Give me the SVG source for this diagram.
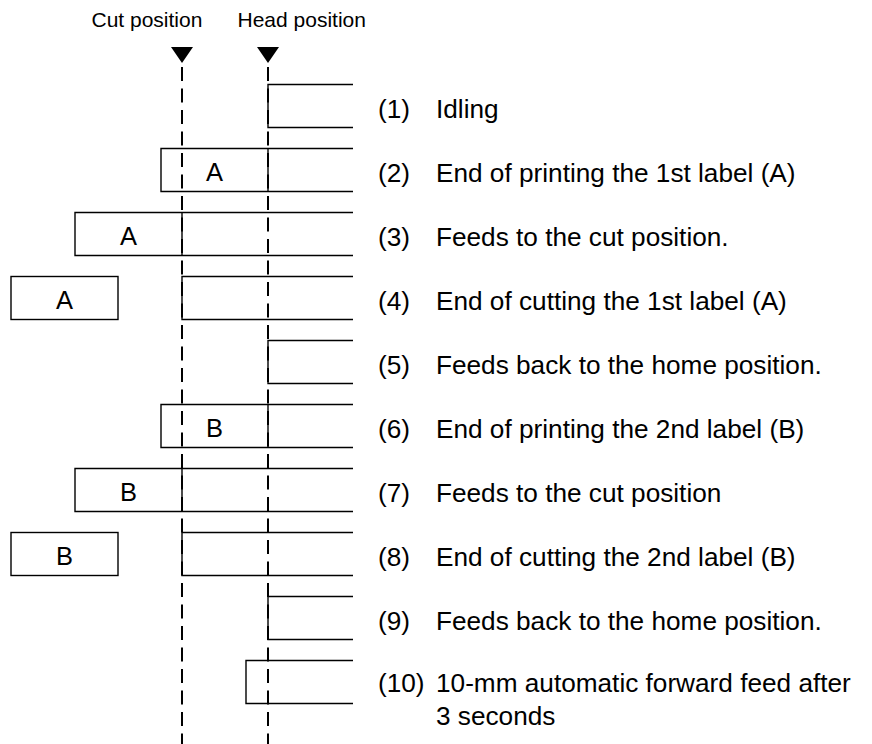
<svg xmlns="http://www.w3.org/2000/svg" width="872" height="744" viewBox="0 0 872 744">
<style>
  .bg { fill: #ffffff; }
  .strip { fill: none; stroke: #000; stroke-width: 1.4; }
  .guide { fill: none; stroke: #000; stroke-width: 2; stroke-dasharray: 14 7.5; }
  .tri { fill: #000; }
  .hdr { font-family: "Liberation Sans", Arial, sans-serif; font-size: 21px; fill: #000; }
  .lbl { font-family: "Liberation Sans", Arial, sans-serif; font-size: 26.2px; fill: #000; }
  .box { font-family: "Liberation Sans", Arial, sans-serif; font-size: 25.5px; fill: #000; text-anchor: middle; }
</style>
<rect class="bg" x="0" y="0" width="872" height="744"/>

<g id="header-cut">
  <text class="hdr" x="91.5" y="27">Cut position</text>
  <polygon class="tri" points="171,47 193,47 182,63"/>
</g>
<g id="header-head">
  <text class="hdr" x="237.5" y="27">Head position</text>
  <polygon class="tri" points="257,47 279,47 268,63"/>
</g>

<g id="guides">
  <line class="guide" x1="182" y1="62" x2="182" y2="744" stroke-dashoffset="-5"/>
  <line class="guide" x1="268" y1="62" x2="268" y2="744" stroke-dashoffset="-5"/>
</g>

<g id="row1">
  <path class="strip" d="M353,84.5 H268 V127.5 H353"/>
  <text class="lbl" x="378" y="118">(1)</text>
  <text class="lbl" x="436" y="118">Idling</text>
</g>

<g id="row2">
  <path class="strip" d="M353,148.5 H161 V191.5 H353 M268,148.5 V191.5"/>
  <text class="box" x="214.5" y="181">A</text>
  <text class="lbl" x="378" y="182">(2)</text>
  <text class="lbl" x="436" y="182">End of printing the 1st label (A)</text>
</g>

<g id="row3">
  <path class="strip" d="M353,212.5 H75 V255.5 H353 M182,212.5 V255.5"/>
  <text class="box" x="128.5" y="245">A</text>
  <text class="lbl" x="378" y="246">(3)</text>
  <text class="lbl" x="436" y="246">Feeds to the cut position.</text>
</g>

<g id="row4">
  <rect class="strip" x="11" y="276.5" width="107" height="43"/>
  <path class="strip" d="M353,276.5 H182 V319.5 H353"/>
  <text class="box" x="64.5" y="309">A</text>
  <text class="lbl" x="378" y="310">(4)</text>
  <text class="lbl" x="436" y="310">End of cutting the 1st label (A)</text>
</g>

<g id="row5">
  <path class="strip" d="M353,340.5 H268 V383.5 H353"/>
  <text class="lbl" x="378" y="374">(5)</text>
  <text class="lbl" x="436" y="374">Feeds back to the home position.</text>
</g>

<g id="row6">
  <path class="strip" d="M353,404.5 H161 V447.5 H353 M268,404.5 V447.5"/>
  <text class="box" x="214.5" y="437">B</text>
  <text class="lbl" x="378" y="438">(6)</text>
  <text class="lbl" x="436" y="438">End of printing the 2nd label (B)</text>
</g>

<g id="row7">
  <path class="strip" d="M353,468.5 H75 V511.5 H353 M182,468.5 V511.5"/>
  <text class="box" x="128.5" y="501">B</text>
  <text class="lbl" x="378" y="502">(7)</text>
  <text class="lbl" x="436" y="502">Feeds to the cut position</text>
</g>

<g id="row8">
  <rect class="strip" x="11" y="532.5" width="107" height="43"/>
  <path class="strip" d="M353,532.5 H182 V575.5 H353"/>
  <text class="box" x="64.5" y="565">B</text>
  <text class="lbl" x="378" y="566">(8)</text>
  <text class="lbl" x="436" y="566">End of cutting the 2nd label (B)</text>
</g>

<g id="row9">
  <path class="strip" d="M353,596.5 H268 V639.5 H353"/>
  <text class="lbl" x="378" y="630">(9)</text>
  <text class="lbl" x="436" y="630">Feeds back to the home position.</text>
</g>

<g id="row10">
  <path class="strip" d="M353,660.5 H246 V703.5 H353"/>
  <text class="lbl" x="378" y="692">(10)</text>
  <text class="lbl" x="436" y="692">10-mm automatic forward feed after</text>
  <text class="lbl" x="436" y="725">3 seconds</text>
</g>
</svg>
